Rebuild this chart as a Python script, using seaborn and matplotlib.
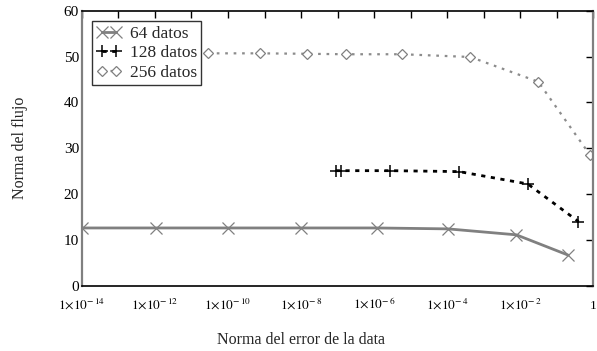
import numpy as np
import pandas as pd
import matplotlib
matplotlib.use("Agg")
import matplotlib.pyplot as plt
import seaborn as sns
from matplotlib.ticker import LogLocator, FuncFormatter, NullLocator

sns.set_style("white")
plt.rcParams['font.family'] = ['Liberation Serif', 'DejaVu Serif']
plt.rcParams['mathtext.fontset'] = 'stix'

x64 = [1e-14, 1.1e-12, 1e-10, 1e-8, 1.2e-6, 1.05e-4, 7.8e-3, 0.2]
y64 = [12.6, 12.6, 12.6, 12.6, 12.6, 12.4, 11.1, 6.7]
x128 = [8.9e-8, 1.23e-7, 2.8e-6, 2.1e-4, 1.6e-2, 0.39]
y128 = [25.1, 25.1, 25.1, 24.9, 22.2, 14.0]
x256 = [2.9e-11, 7.6e-10, 1.45e-8, 1.66e-7, 5.9e-6, 4.3e-4, 3.1e-2, 0.81]
y256 = [50.7, 50.7, 50.6, 50.5, 50.5, 49.9, 44.5, 28.5]
labels = ["64 datos", "128 datos", "256 datos"]

fig = plt.figure(figsize=(5.97, 3.51), dpi=100)
ax = fig.add_axes([0.137, 0.186, 0.857, 0.7835])

sns.lineplot(x=x64, y=y64, ax=ax, color='#808080', lw=2.0, marker='x',
             markersize=8, markeredgewidth=0.9, markeredgecolor='#808080',
             estimator=None, sort=False, label=labels[0])
sns.lineplot(x=x128, y=y128, ax=ax, color='black', lw=2.0, marker='+',
             markersize=9, markeredgewidth=1.1, markeredgecolor='black',
             linestyle=(0, (1.5, 2.0)),
             estimator=None, sort=False, label=labels[1])
sns.lineplot(x=x256, y=y256, ax=ax, color='#8c8c8c', lw=1.6, marker='D',
             markersize=5, markeredgewidth=0.9, markeredgecolor='#808080',
             markerfacecolor='white', linestyle=(0, (1.2, 2.6)),
             estimator=None, sort=False, label=labels[2])

ax.set_xscale('log')
ax.set_xlim(1e-14, 1)
ax.set_ylim(0, 60)
ax.set_yticks([0, 10, 20, 30, 40, 50, 60])

ax.xaxis.set_major_locator(LogLocator(base=10, numticks=30))
ax.xaxis.set_minor_locator(NullLocator())

def fmt(v, pos):
    e = int(round(np.log10(v)))
    if e == 0:
        return "1"
    if e % 2:
        return ""
    return r"$1{\times}10^{-\,%d}$" % (-e)

ax.xaxis.set_major_formatter(FuncFormatter(fmt))

ax.tick_params(axis='both', which='major', direction='in', length=5, width=1,
               top=True, right=True, colors='black')
ax.tick_params(axis='x', pad=16.5, labelsize=9.5)
ax.tick_params(axis='y', pad=2, labelsize=11)
for lab in ax.get_xticklabels():
    lab.set_va('baseline')

for s in ['top', 'bottom']:
    ax.spines[s].set_color('black')
    ax.spines[s].set_linewidth(1.2)
for s in ['left', 'right']:
    ax.spines[s].set_color('#808080')
    ax.spines[s].set_linewidth(1.6)

ax.set_xlabel("Norma del error de la data", fontsize=11.5)
ax.set_ylabel("Norma del flujo", fontsize=11.5)
ax.xaxis.set_label_coords(0.4287, -0.197)
ax.xaxis.label.set_va('center')
ax.yaxis.set_label_coords(-0.12, 0.5)
ax.yaxis.label.set_va('center')

leg = ax.legend(loc='upper left', numpoints=2, fontsize=12.5, frameon=True,
                fancybox=False, edgecolor='black', handlelength=1.4,
                handletextpad=0.5, borderpad=0.25, labelspacing=0.2,
                borderaxespad=0.6)
leg.get_frame().set_linewidth(1.0)

fig.savefig("out.png", dpi=100)
